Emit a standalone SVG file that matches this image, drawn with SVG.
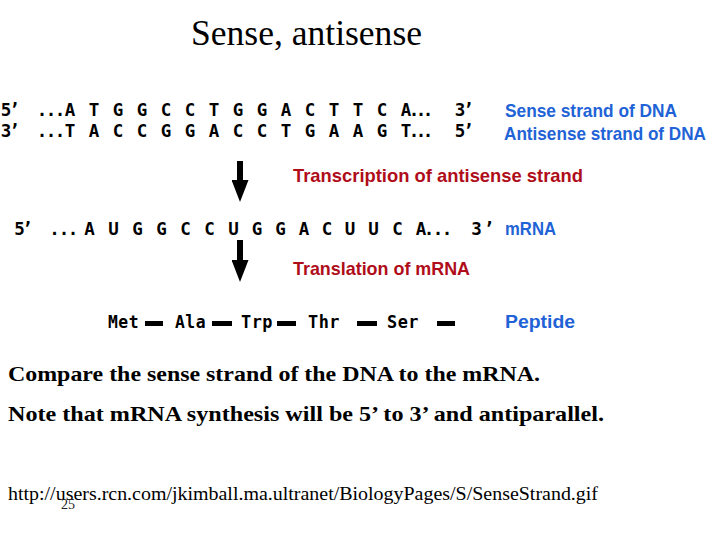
<svg xmlns="http://www.w3.org/2000/svg" width="720" height="540" viewBox="0 0 720 540">
<style>
.seq{font-family:"DejaVu Sans Mono","Liberation Mono",monospace;font-weight:bold;font-size:17.5px;fill:#000;text-anchor:middle}
.aa{font-family:"DejaVu Sans Mono","Liberation Mono",monospace;font-weight:bold;font-size:17px;fill:#000;letter-spacing:0.5px}
.lab{font-family:"Liberation Sans","DejaVu Sans",sans-serif;font-weight:bold;font-size:19px}
.blue{fill:#1f63d6}
.red{fill:#b00d1a}
.body{font-family:"Liberation Serif","Times New Roman",serif;font-weight:bold;font-size:21px;fill:#000}
.foot{font-family:"Liberation Serif","Times New Roman",serif;font-size:18px;fill:#000}
.bar{fill:#000}
.conn{stroke:#000;stroke-width:6;fill:none}
</style>
<defs>
<marker id="ah" markerUnits="userSpaceOnUse" viewBox="0 0 22 17" markerWidth="22" markerHeight="17" refX="0" refY="8.5" orient="auto">
<path d="M0,0 L22,8.5 L0,17 Z" fill="#000"/>
</marker>
</defs>
<rect width="720" height="540" fill="#fff"/>

<g id="title">
<text x="191" y="45" font-family="Liberation Serif,'Times New Roman',serif" font-size="35" fill="#000" textLength="231" lengthAdjust="spacingAndGlyphs">Sense, antisense</text>
</g>

<g id="sense-strand">
<text class="seq" y="115.5" x="6 14.5 28 42 51 60 70 82 94 106 118 130 142 154 166 178 190 202 214 226 238 250 262 274 286 298 310 322 334 346 358 370 382 394 406 414 421 428 444 460 468.5">5’ ...A T G G C C T G G A C T T C A... 3’</text>
<text class="lab blue" x="505" y="117" textLength="172" lengthAdjust="spacingAndGlyphs">Sense strand of DNA</text>
</g>

<g id="antisense-strand">
<text class="seq" y="137" x="6 14.5 28 42 51 60 70 82 94 106 118 130 142 154 166 178 190 202 214 226 238 250 262 274 286 298 310 322 334 346 358 370 382 394 406 414 421 428 444 460 468.5">3’ ...T A C C G G A C C T G A A G T... 5’</text>
<text class="lab blue" x="504" y="140" font-size="17" textLength="202" lengthAdjust="spacingAndGlyphs">Antisense strand of DNA</text>
</g>

<g id="transcription-label">
<text class="lab red" x="293" y="182" textLength="290" lengthAdjust="spacingAndGlyphs">Transcription of antisense strand</text>
</g>

<g id="mrna">
<text class="seq" y="235" x="19.5 27.5 40 54.5 64 73 89.5 101.5 113.5 125.5 137.5 149.5 161.5 173.5 185.5 197.5 209.5 221.5 233.5 245 257 269 280.5 292 304 315 327 338 350 362 373.5 385 397.5 409 421 429 438 447 460 476.5 489">5’ ...A U G G C C U G G A C U U C A... 3’</text>
<text class="lab blue" x="505" y="235" textLength="51" lengthAdjust="spacingAndGlyphs">mRNA</text>
</g>

<g id="translation-label">
<text class="lab red" x="293" y="275" textLength="177" lengthAdjust="spacingAndGlyphs">Translation of mRNA</text>
</g>

<g id="peptide">
<text class="aa" x="108" y="328" textLength="31" lengthAdjust="spacingAndGlyphs">Met</text>
<rect class="bar" x="145" y="321" width="18" height="5"/>
<text class="aa" x="175" y="328" textLength="31" lengthAdjust="spacingAndGlyphs">Ala</text>
<rect class="bar" x="212" y="321" width="20" height="5"/>
<text class="aa" x="241" y="328" textLength="32" lengthAdjust="spacingAndGlyphs">Trp</text>
<rect class="bar" x="277" y="321" width="19" height="5"/>
<text class="aa" x="308" y="328" textLength="32" lengthAdjust="spacingAndGlyphs">Thr</text>
<rect class="bar" x="357" y="321" width="20" height="5"/>
<text class="aa" x="387" y="328" textLength="32" lengthAdjust="spacingAndGlyphs">Ser</text>
<rect class="bar" x="437" y="321" width="18" height="5"/>
<text class="lab blue" x="505" y="328" textLength="70" lengthAdjust="spacingAndGlyphs">Peptide</text>
</g>

<g id="connectors">
<line class="conn" x1="240" y1="161" x2="240" y2="180" marker-end="url(#ah)"/>
<line class="conn" x1="240" y1="240" x2="240" y2="260" marker-end="url(#ah)"/>
</g>

<g id="notes">
<text class="body" x="8" y="381" textLength="532" lengthAdjust="spacingAndGlyphs">Compare the sense strand of the DNA to the mRNA.</text>
<text class="body" x="8" y="421" textLength="596" lengthAdjust="spacingAndGlyphs">Note that mRNA synthesis will be 5’ to 3’ and antiparallel.</text>
</g>

<g id="footer">
<text class="foot" x="8" y="500" textLength="590" lengthAdjust="spacingAndGlyphs">http://users.rcn.com/jkimball.ma.ultranet/BiologyPages/S/SenseStrand.gif</text>
<text x="61" y="509" font-family="Liberation Serif,'Times New Roman',serif" font-size="14" fill="#222">25</text>
</g>
</svg>
